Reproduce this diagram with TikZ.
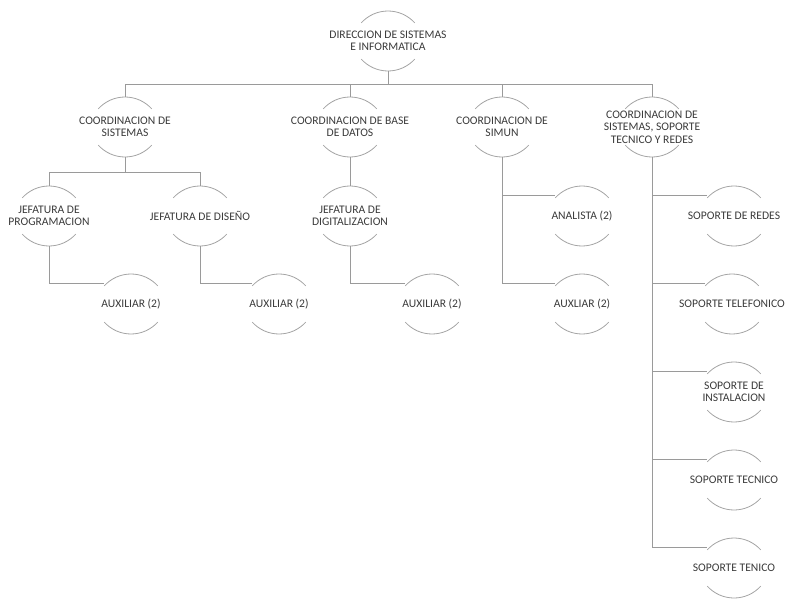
\documentclass[tikz,border=0pt]{standalone}
\usepackage{fontspec}
\setmainfont{Carlito}

\definecolor{gristexto}{HTML}{3A3A3A}
\definecolor{grislinea}{HTML}{9A9A9A}
\definecolor{grisarco}{HTML}{A4A4A4}

\def\radio{27pt}

\tikzset{
    puesto/.style={circle, minimum size=45pt, inner sep=0pt, outer sep=0pt},
    texto/.style={font=\fontsize{8.7}{9.3}\selectfont, text=gristexto, align=center, inner sep=0pt},
    arco/.style={draw=grisarco, line width=0.6pt},
    linea/.style={draw=grislinea, line width=0.6pt}
}

\begin{document}
\begin{tikzpicture}[x=0.75pt, y=0.75pt]
    \useasboundingbox (0,0) rectangle (787,-602);

    % nivel superior
    \node [puesto, label={[texto]center:DIRECCION DE SISTEMAS\\E INFORMATICA}] (dir) at (388,-41) {};

    % coordinaciones
    \node [puesto, label={[texto]center:COORDINACION DE\\SISTEMAS}] (cs) at (125,-127) {};
    \node [puesto, label={[texto]center:COORDINACION DE BASE\\DE DATOS}] (cb) at (350,-127) {};
    \node [puesto, label={[texto]center:COORDINACION DE\\SIMUN}] (cm) at (502,-127) {};
    \node [puesto, label={[texto]center:COORDINACION DE\\SISTEMAS, SOPORTE\\TECNICO Y REDES}] (cr) at (652,-127) {};

    % jefaturas
    \node [puesto, label={[texto]center:JEFATURA DE\\PROGRAMACION}] (jp) at (49,-216) {};
    \node [puesto, label={[texto]center:JEFATURA DE DISEÑO}] (jd) at (200,-216) {};
    \node [puesto, label={[texto]center:JEFATURA DE\\DIGITALIZACION}] (jg) at (350,-216) {};
    \node [puesto, label={[texto]center:ANALISTA (2)}] (an) at (582,-216) {};

    % auxiliares
    \node [puesto, label={[texto]center:AUXILIAR (2)}] (ax1) at (131,-304) {};
    \node [puesto, label={[texto]center:AUXILIAR (2)}] (ax2) at (279,-304) {};
    \node [puesto, label={[texto]center:AUXILIAR (2)}] (ax3) at (432,-304) {};
    \node [puesto, label={[texto]center:AUXLIAR (2)}] (ax4) at (582,-304) {};

    % soporte
    \node [puesto, label={[texto]center:SOPORTE DE REDES}] (sr) at (734,-216) {};
    \node [puesto, label={[texto]center:SOPORTE TELEFONICO}] (st) at (732,-304) {};
    \node [puesto, label={[texto]center:SOPORTE DE\\INSTALACION}] (si) at (734,-392) {};
    \node [puesto, label={[texto]center:SOPORTE TECNICO}] (sc) at (734,-480) {};
    \node [puesto, label={[texto]center:SOPORTE TENICO}] (sn) at (734,-568) {};

    % arcos de cada puesto
    \foreach \n in {dir,cs,cb,cm,cr,jp,jd,jg,an,ax1,ax2,ax3,ax4,sr,st,si,sc,sn} {
        \draw [arco] (\n.north) arc [start angle=90, end angle=42, radius=\radio]
                     (\n.north) arc [start angle=90, end angle=138, radius=\radio];
        \draw [arco] (\n.south) arc [start angle=-90, end angle=-42, radius=\radio]
                     (\n.south) arc [start angle=-90, end angle=-138, radius=\radio];
        \coordinate (\n-e) at ([shift={(-20.06pt,-6.93pt)}]\n.north);
    }

    % conexiones
    \draw [linea] (dir.south) -- ++(0,-13) -| (cs.north);
    \draw [linea] (dir.south) -- ++(0,-13) -| (cr.north);
    \draw [linea] (dir.south) -- ++(0,-13) -| (cb.north);
    \draw [linea] (dir.south) -- ++(0,-13) -| (cm.north);

    \draw [linea] (cs.south) -- ++(0,-15) -| (jp.north);
    \draw [linea] (cs.south) -- ++(0,-15) -| (jd.north);
    \draw [linea] (cb.south) -- (jg.north);

    \draw [linea] (jp.south) |- (ax1-e);
    \draw [linea] (jd.south) |- (ax2-e);
    \draw [linea] (jg.south) |- (ax3-e);
    \draw [linea] (cm.south) |- (an-e);
    \draw [linea] (cm.south) |- (ax4-e);

    \foreach \n in {sr,st,si,sc,sn}
        \draw [linea] (cr.south) |- (\n-e);
\end{tikzpicture}
\end{document}
